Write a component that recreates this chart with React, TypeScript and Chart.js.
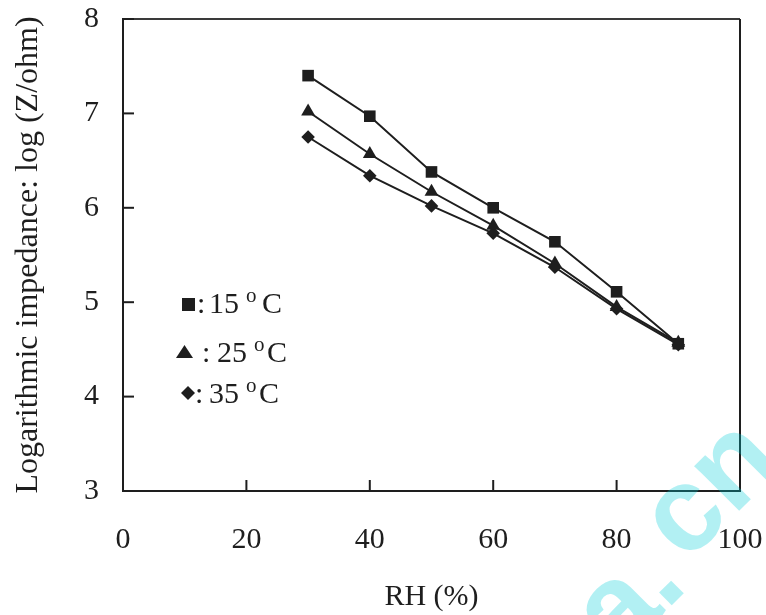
import React, { useEffect, useRef } from "react";
import { Chart, registerables } from "chart.js";

Chart.register(...registerables);

const rh = [30, 40, 50, 60, 70, 80, 90];
const z15 = [7.4, 6.97, 6.38, 6.0, 5.64, 5.11, 4.56];
const z25 = [7.02, 6.57, 6.17, 5.81, 5.41, 4.95, 4.57];
const z35 = [6.75, 6.34, 6.02, 5.73, 5.37, 4.93, 4.55];
const xTicks = [0, 20, 40, 60, 80, 100];
const yTicks = [3, 4, 5, 6, 7, 8];
const legendLabels = ["15", "25", "35"];

const FONT = "'Liberation Serif', 'Times New Roman', serif";
const INK = "#1e1e1e";

const pts = (ys: number[]) => rh.map((x, i) => ({ x, y: ys[i] }));

const framePlugin = {
  id: "frame",
  afterDraw(chart: any) {
    const { ctx, chartArea: a, scales } = chart;
    ctx.save();
    ctx.lineWidth = 2;
    ctx.strokeStyle = "#3a3a3a";
    ctx.beginPath();
    ctx.moveTo(a.left, a.top);
    ctx.lineTo(a.right, a.top);
    ctx.stroke();
    ctx.strokeStyle = INK;
    ctx.beginPath();
    ctx.moveTo(a.right, a.top);
    ctx.lineTo(a.right, a.bottom);
    ctx.stroke();
    const len = 11;
    scales.x.ticks.forEach((t: any) => {
      const px = scales.x.getPixelForValue(t.value);
      ctx.beginPath();
      ctx.moveTo(px, a.bottom);
      ctx.lineTo(px, a.bottom - len);
      ctx.stroke();
    });
    scales.y.ticks.forEach((t: any) => {
      const py = scales.y.getPixelForValue(t.value);
      ctx.beginPath();
      ctx.moveTo(a.left, py);
      ctx.lineTo(a.left + len, py);
      ctx.stroke();
    });
    ctx.restore();
  },
};

const legendPlugin = {
  id: "customLegend",
  afterDraw(chart: any) {
    const { ctx } = chart;
    ctx.save();
    ctx.fillStyle = INK;
    ctx.fillRect(182, 298, 13, 13);
    ctx.beginPath();
    ctx.moveTo(184.5, 345);
    ctx.lineTo(193, 358);
    ctx.lineTo(176, 358);
    ctx.closePath();
    ctx.fill();
    ctx.beginPath();
    ctx.moveTo(188, 386);
    ctx.lineTo(195, 393);
    ctx.lineTo(188, 400);
    ctx.lineTo(181, 393);
    ctx.closePath();
    ctx.fill();

    const rows = [
      { colon: 197, num: 209, o: 246, c: 262, base: 313 },
      { colon: 202, num: 217, o: 254, c: 267, base: 362 },
      { colon: 195, num: 209, o: 246, c: 259, base: 403 },
    ];
    const draw = (s: string, x: number, y: number, size: number) => {
      ctx.font = `${size}px ${FONT}`;
      ctx.textBaseline = "alphabetic";
      ctx.textAlign = "left";
      ctx.fillText(s, x, y);
    };
    rows.forEach((r, i) => {
      draw(":", r.colon, r.base, 30);
      draw(legendLabels[i], r.num, r.base, 30);
      draw("o", r.o, r.base - 11, 21);
      draw("C", r.c, r.base, 30);
    });
    ctx.restore();
  },
};

const watermarkPlugin = {
  id: "watermark",
  afterDraw(chart: any) {
    const { ctx } = chart;
    const put = (s: string, x: number, y: number, align: CanvasTextAlign) => {
      ctx.save();
      ctx.translate(x, y);
      ctx.rotate(-Math.PI / 4);
      ctx.font = "bold 120px 'Liberation Sans', Arial, sans-serif";
      ctx.textAlign = align;
      ctx.textBaseline = "alphabetic";
      ctx.fillStyle = "rgba(0, 204, 214, 0.3)";
      ctx.fillText(s, 0, 0);
      ctx.restore();
    };
    put("cn", 686, 564, "left");
    put(".", 666, 611, "left");
    put("a", 666, 611, "right");
  },
};

export default function App() {
  const ref = useRef<HTMLCanvasElement | null>(null);
  useEffect(() => {
    document.body.style.margin = "0";
    if (!ref.current) return;
    const mk = (data: number[], style: string, r: number) => ({
      data: pts(data),
      borderColor: INK,
      borderWidth: 2,
      backgroundColor: INK,
      pointBackgroundColor: INK,
      pointBorderColor: INK,
      pointBorderWidth: 0,
      pointStyle: style,
      pointRadius: r,
      pointHoverRadius: r,
      tension: 0,
      fill: false,
    });
    const chart = new Chart(ref.current, {
      type: "line",
      data: {
        datasets: [
          { label: "15 °C", ...mk(z15, "rect", 8.2) },
          { label: "25 °C", ...mk(z25, "triangle", 8) },
          { label: "35 °C", ...mk(z35, "rectRot", 6.8) },
        ] as any,
      },
      options: {
        animation: false,
        responsive: true,
        maintainAspectRatio: false,
        layout: { padding: { top: 19, right: 26, left: 0, bottom: 0 } },
        plugins: {
          legend: { display: false },
          tooltip: { enabled: false },
        },
        scales: {
          x: {
            type: "linear",
            min: 0,
            max: 100,
            afterBuildTicks: (s: any) => {
              s.ticks = xTicks.map((v) => ({ value: v }));
            },
            afterFit: (s: any) => {
              s.height = 124;
              s.paddingLeft = 0;
              s.paddingRight = 0;
            },
            ticks: {
              font: { family: FONT, size: 30 },
              color: INK,
              padding: 31,
              maxRotation: 0,
            },
            grid: { display: true, drawOnChartArea: false, drawTicks: false },
            border: { display: true, color: INK, width: 2 },
            title: {
              display: true,
              text: "RH (%)",
              font: { family: FONT, size: 30 },
              color: INK,
              padding: { top: 0, bottom: 0 },
            },
          },
          y: {
            type: "linear",
            min: 3,
            max: 8,
            afterBuildTicks: (s: any) => {
              s.ticks = yTicks.map((v) => ({ value: v }));
            },
            afterFit: (s: any) => {
              s.width = 123;
              s.paddingTop = 0;
              s.paddingBottom = 0;
            },
            ticks: {
              font: { family: FONT, size: 30 },
              color: INK,
              padding: 24,
            },
            grid: { display: true, drawOnChartArea: false, drawTicks: false },
            border: { display: true, color: INK, width: 2 },
            title: {
              display: true,
              text: "Logarithmic impedance: log (Z/ohm)",
              font: { family: FONT, size: 32 },
              color: INK,
              padding: { top: 9, bottom: 0 },
            },
          },
        },
      },
      plugins: [framePlugin, legendPlugin, watermarkPlugin],
    });
    return () => chart.destroy();
  }, []);
  return (
    <div style={{ position: "absolute", left: 0, top: 0, width: 766, height: 615 }}>
      <canvas ref={ref} />
    </div>
  );
}
